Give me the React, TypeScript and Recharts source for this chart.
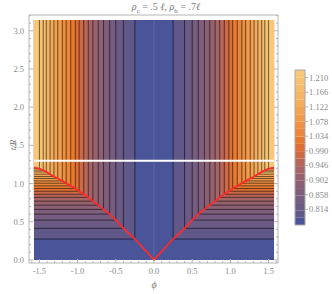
import React from 'react';
import { ComposedChart, XAxis, YAxis, ReferenceArea, ReferenceLine, Line } from 'recharts';

// ---- data ----
const PHI_MAX = 1.5708; // pi/2
const T_MAX = 3.1416; // pi
// phi positions of the vertical contour segments (upper region, symmetric)
const contourPhi = [0.25, 0.40, 0.50, 0.58, 0.66, 0.73, 0.80, 0.86, 0.92, 0.98, 1.03, 1.09, 1.15, 1.20, 1.26, 1.31, 1.36, 1.41, 1.45, 1.50];
// t/R positions of the horizontal contour segments (lower region)
const contourT = [0.274, 0.414, 0.522, 0.60, 0.662, 0.718, 0.77, 0.82, 0.86, 0.90, 0.936, 0.97, 1.005, 1.035, 1.067, 1.093, 1.123, 1.153, 1.175, 1.195];
// red curve (right half, mirrored for left)
const redPhi = [0, 0.25, 0.40, 0.50, 0.58, 0.66, 0.73, 0.80, 0.86, 0.92, 0.98, 1.03, 1.09, 1.15, 1.20, 1.26, 1.31, 1.36, 1.41, 1.45, 1.50, 1.5708];
const redT = [0, 0.274, 0.414, 0.522, 0.60, 0.662, 0.718, 0.77, 0.82, 0.86, 0.90, 0.936, 0.97, 1.005, 1.035, 1.067, 1.093, 1.123, 1.153, 1.175, 1.195, 1.21];
const whiteT = 1.3;

const xTicks = [-1.6, -1.5, -1.4, -1.3, -1.2, -1.1, -1.0, -0.9, -0.8, -0.7, -0.6, -0.5, -0.4, -0.3, -0.2, -0.1, 0, 0.1, 0.2, 0.3, 0.4, 0.5, 0.6, 0.7, 0.8, 0.9, 1.0, 1.1, 1.2, 1.3, 1.4, 1.5, 1.6];
const yTicks = [0, 0.1, 0.2, 0.3, 0.4, 0.5, 0.6, 0.7, 0.8, 0.9, 1.0, 1.1, 1.2, 1.3, 1.4, 1.5, 1.6, 1.7, 1.8, 1.9, 2.0, 2.1, 2.2, 2.3, 2.4, 2.5, 2.6, 2.7, 2.8, 2.9, 3.0, 3.1, 3.2];

// colour bar
const legendLevels = [0.767, 0.789, 0.811, 0.833, 0.856, 0.878, 0.900, 0.922, 0.944, 0.967, 0.989, 1.011, 1.033, 1.056, 1.078, 1.100, 1.122, 1.144, 1.167, 1.189, 1.211, 1.233];
const legendTicks = [0.814, 0.858, 0.902, 0.946, 0.990, 1.034, 1.078, 1.122, 1.166, 1.210];

// ---- styles ----
const bandColors = ['#4a5499', '#5f5888', '#6a5a84', '#755c80', '#7f5e7b', '#8b6075', '#97616e', '#a66466', '#b8665a', '#cc6a48', '#e06e32', '#e87a30', '#ec863a', '#ee9042', '#f09a4a', '#f2a352', '#f3ac5a', '#f4b463', '#f5bc6b', '#f6c272', '#f8c879'];
const FRAME = '#b4b4b4';
const TXT = '#8a8a8a';
const FONT = '"Liberation Serif", "DejaVu Serif", serif';

const isMajor = (v: number) => Math.abs(v * 2 - Math.round(v * 2)) < 1e-6;

const BottomTick = (p: any) => {
  const v = p.payload.value;
  const m = isMajor(v);
  return (
    <g>
      <line x1={p.x} x2={p.x} y1={p.y} y2={p.y - (m ? 4 : 2)} stroke={FRAME} />
      {m && (
        <text x={p.x} y={p.y + 11} textAnchor="middle" fontSize={8.5} fill={TXT} fontFamily={FONT}>
          {v.toFixed(1)}
        </text>
      )}
    </g>
  );
};
const TopTick = (p: any) => {
  const m = isMajor(p.payload.value);
  return <line x1={p.x} x2={p.x} y1={p.y} y2={p.y + (m ? 4 : 2)} stroke={FRAME} />;
};
const LeftTick = (p: any) => {
  const v = p.payload.value;
  const m = isMajor(v);
  return (
    <g>
      <line x1={p.x} x2={p.x + (m ? 4 : 2)} y1={p.y} y2={p.y} stroke={FRAME} />
      {m && (
        <text x={p.x - 5} y={p.y + 3} textAnchor="end" fontSize={8.5} fill={TXT} fontFamily={FONT}>
          {v.toFixed(1)}
        </text>
      )}
    </g>
  );
};
const RightTick = (p: any) => {
  const m = isMajor(p.payload.value);
  return <line x1={p.x} x2={p.x - (m ? 4 : 2)} y1={p.y} y2={p.y} stroke={FRAME} />;
};
const LegendTick = (p: any) => (
  <g>
    <line x1={p.x} x2={p.x + 3} y1={p.y} y2={p.y} stroke={FRAME} />
    <text x={p.x + 4} y={p.y + 3} textAnchor="start" fontSize={8.5} fill={TXT} fontFamily={FONT}>
      {p.payload.value.toFixed(3)}
    </text>
  </g>
);

const redData = [
  ...redPhi.slice().reverse().map((phi, i) => ({ phi: -phi, t: redT[redT.length - 1 - i] })),
  ...redPhi.slice(1).map((phi, i) => ({ phi, t: redT[i + 1] })),
];
const legendDummy = [{ u: 0, v: 0.767 }, { u: 1, v: 1.233 }];

export default function App() {
  const areas: React.ReactNode[] = [];
  contourPhi.forEach((a, k) => {
    const b = contourT[k];
    const c = bandColors[k + 1];
    areas.push(<ReferenceArea key={`l${k}`} x1={-PHI_MAX} x2={-a} y1={b} y2={T_MAX} fill={c} fillOpacity={1} stroke="none" />);
    areas.push(<ReferenceArea key={`r${k}`} x1={a} x2={PHI_MAX} y1={b} y2={T_MAX} fill={c} fillOpacity={1} stroke="none" />);
  });
  const lines: React.ReactNode[] = [];
  contourPhi.forEach((a, k) => {
    const b = contourT[k];
    const st = { stroke: '#000', strokeOpacity: 0.55, strokeWidth: 1 };
    lines.push(<ReferenceLine key={`hl${k}`} segment={[{ x: -PHI_MAX, y: b }, { x: -a, y: b }]} {...st} />);
    lines.push(<ReferenceLine key={`vl${k}`} segment={[{ x: -a, y: b }, { x: -a, y: T_MAX }]} {...st} />);
    lines.push(<ReferenceLine key={`hr${k}`} segment={[{ x: a, y: b }, { x: PHI_MAX, y: b }]} {...st} />);
    lines.push(<ReferenceLine key={`vr${k}`} segment={[{ x: a, y: b }, { x: a, y: T_MAX }]} {...st} />);
  });

  return (
    <div style={{ position: 'absolute', left: 0, top: 0, width: 332, height: 294, background: '#fff' }}>
      <div style={{ position: 'absolute', left: 0, top: 0 }}>
        <ComposedChart width={332} height={294} margin={{ top: 0, right: 0, bottom: 0, left: 0 }}>
          <XAxis dataKey="phi" type="number" domain={[-1.636, 1.623]} allowDataOverflow ticks={xTicks} interval={0}
            height={31} tickSize={0} tickMargin={0} tickLine={false} axisLine={{ stroke: FRAME }} tick={BottomTick} />
          <XAxis xAxisId="top" orientation="top" type="number" domain={[-1.636, 1.623]} allowDataOverflow ticks={xTicks} interval={0}
            height={15} tickSize={0} tickMargin={0} tickLine={false} axisLine={{ stroke: FRAME }} tick={TopTick} />
          <YAxis type="number" domain={[-0.04, 3.207]} allowDataOverflow ticks={yTicks} interval={0}
            width={29} tickSize={0} tickMargin={0} tickLine={false} axisLine={{ stroke: FRAME }} tick={LeftTick} />
          <YAxis yAxisId="right" orientation="right" type="number" domain={[-0.04, 3.207]} allowDataOverflow ticks={yTicks} interval={0}
            width={54} tickSize={0} tickMargin={0} tickLine={false} axisLine={{ stroke: FRAME }} tick={RightTick} />
          <ReferenceArea x1={-PHI_MAX} x2={PHI_MAX} y1={0} y2={T_MAX} fill={bandColors[0]} fillOpacity={1} stroke="none" />
          {areas}
          <ReferenceLine segment={[{ x: 0, y: 0 }, { x: 0, y: T_MAX }]} stroke="#8a90c0" strokeOpacity={0.35} strokeWidth={1} />
          {lines}
          <ReferenceLine segment={[{ x: -PHI_MAX, y: whiteT }, { x: PHI_MAX, y: whiteT }]} stroke="#ffffff" strokeWidth={2} />
          <Line data={redData} dataKey="t" type="linear" stroke="#ff2a2a" strokeWidth={1.8} dot={false} isAnimationActive={false} />
        </ComposedChart>
      </div>
      <div style={{ position: 'absolute', left: 0, top: 0 }}>
        <ComposedChart width={332} height={294} margin={{ top: 70, right: 0, bottom: 69, left: 295 }}>
          <XAxis dataKey="u" type="number" domain={[0, 1]} allowDataOverflow hide />
          <YAxis orientation="right" type="number" domain={[0.767, 1.233]} allowDataOverflow ticks={legendTicks} interval={0}
            width={27} tickSize={0} tickMargin={0} tickLine={false} axisLine={false} tick={LegendTick} />
          <Line data={legendDummy} dataKey="v" stroke="none" dot={false} isAnimationActive={false} />
          {bandColors.map((c, k) => (
            <ReferenceArea key={k} x1={0} x2={1} y1={legendLevels[k]} y2={legendLevels[k + 1]} fill={c} fillOpacity={1} stroke="none" />
          ))}
          <ReferenceArea x1={0} x2={1} y1={0.767} y2={1.233} fill="none" stroke="#a8a8a8" strokeWidth={1} />
        </ComposedChart>
      </div>
      <div style={{ position: 'absolute', left: 0, top: 0, width: 332, textAlign: 'center', fontFamily: FONT, fontSize: 10, color: '#7a7a7a', lineHeight: '13px' }}>
        <i>ρ</i><sub style={{ fontSize: 7 }}>c</sub> = .5 <i>ℓ</i>, <i>ρ</i><sub style={{ fontSize: 7 }}>h</sub> = .7<i>ℓ</i>
      </div>
      <div style={{ position: 'absolute', left: 6, top: 140, transform: 'rotate(-90deg)', transformOrigin: 'center', fontFamily: FONT, fontSize: 9, color: '#7a7a7a', fontStyle: 'italic', width: 14, textAlign: 'center' }}>
        t/R
      </div>
      <div style={{ position: 'absolute', left: 148, top: 279, fontFamily: FONT, fontSize: 10, color: '#7a7a7a', fontStyle: 'italic', width: 12, textAlign: 'center' }}>
        ϕ
      </div>
    </div>
  );
}
